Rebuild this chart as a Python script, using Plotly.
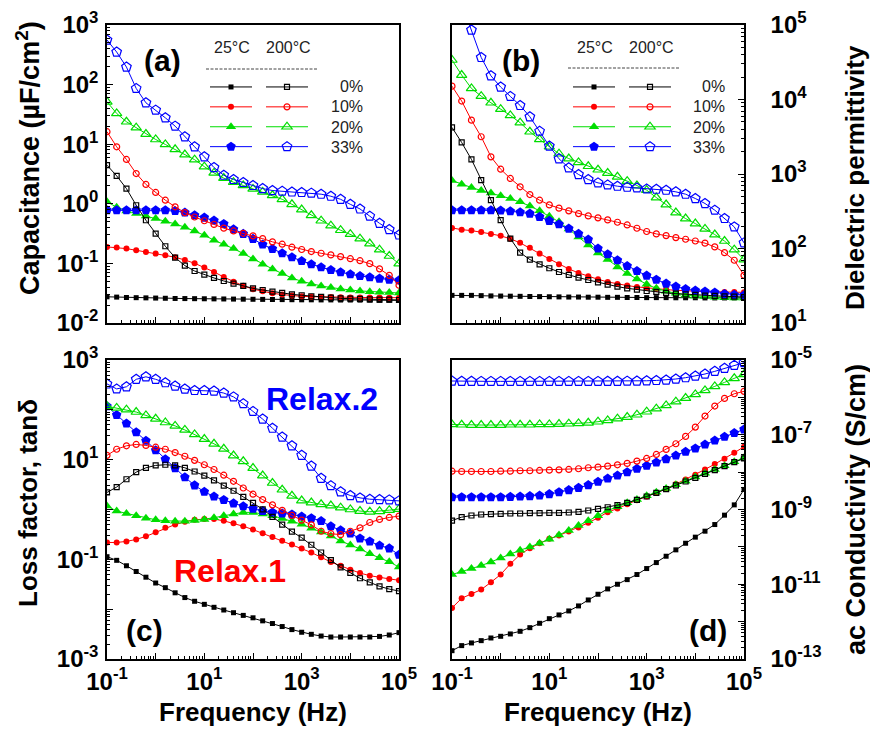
import plotly.graph_objects as go

# ---------------- data ----------------
freq = [0.1, 0.158, 0.251, 0.398, 0.631, 1, 1.58, 2.51, 3.98, 6.31,
        10, 15.8, 25.1, 39.8, 63.1, 100, 158, 251, 398, 631,
        1000, 1580, 2510, 3980, 6310, 10000, 15800, 25100, 39800, 63100, 100000]

compositions = ["0%", "10%", "20%", "33%"]
temperatures = ["25°C", "200°C"]

# (a) Capacitance (uF/cm2)
cap_0_25 = [0.0275, 0.0272, 0.0268, 0.0266, 0.0264, 0.0262, 0.0260, 0.0258, 0.0257, 0.0256, 0.0255, 0.0254, 0.0253, 0.0252, 0.0251, 0.0250,
            0.0249, 0.0248, 0.0247, 0.0246, 0.0245, 0.0245, 0.0244, 0.0244, 0.0243, 0.0243, 0.0242, 0.0242, 0.0241, 0.0241, 0.0240]
cap_0_200 = [4.45, 2.94, 1.80, 0.946, 0.530, 0.316, 0.194, 0.125, 0.0918, 0.0746, 0.0649, 0.0570, 0.0507, 0.0458, 0.0419, 0.0382,
             0.0358, 0.0336, 0.0319, 0.0303, 0.0292, 0.0281, 0.0274, 0.0267, 0.0259, 0.0256, 0.0253, 0.0250, 0.0247, 0.0247, 0.0243]
cap_10_25 = [0.189, 0.184, 0.177, 0.166, 0.156, 0.146, 0.137, 0.127, 0.114, 0.1005, 0.085, 0.072, 0.059, 0.049, 0.042, 0.037,
             0.034, 0.0315, 0.030, 0.0288, 0.028, 0.0277, 0.0274, 0.0272, 0.0270, 0.0268, 0.0268, 0.0267, 0.0267, 0.0266, 0.0266]
cap_10_200 = [16.2, 9.04, 5.55, 3.22, 2.11, 1.55, 1.15, 0.89, 0.71, 0.60, 0.52, 0.45, 0.39, 0.35, 0.32, 0.29,
              0.26, 0.23, 0.21, 0.187, 0.171, 0.158, 0.148, 0.139, 0.130, 0.120, 0.111, 0.099, 0.081, 0.063, 0.043]
cap_20_25 = [1.08, 0.877, 0.76, 0.687, 0.627, 0.566, 0.511, 0.46, 0.405, 0.351, 0.297, 0.245, 0.209, 0.177, 0.146, 0.119,
             0.0966, 0.0807, 0.0675, 0.057, 0.050, 0.0452, 0.0419, 0.0393, 0.0372, 0.0358, 0.0345, 0.0336, 0.0327, 0.0324, 0.0319]
cap_20_200 = [51.5, 32.8, 23.8, 18.9, 14.8, 12.0, 9.9, 8.2, 6.7, 5.5, 4.2, 3.3, 2.7, 2.3, 2.03, 1.78,
              1.58, 1.39, 1.19, 0.98, 0.80, 0.64, 0.52, 0.43, 0.36, 0.31, 0.26, 0.215, 0.17, 0.133, 0.099]
cap_33_25 = [0.78, 0.78, 0.78, 0.78, 0.78, 0.78, 0.78, 0.76, 0.713, 0.644, 0.587, 0.524, 0.46, 0.374, 0.313, 0.258,
             0.207, 0.175, 0.148, 0.127, 0.110, 0.0966, 0.0861, 0.0776, 0.0709, 0.0656, 0.0615, 0.0585, 0.0556, 0.0535, 0.0521]
cap_33_200 = [560, 352, 197, 86.3, 49.5, 37.3, 27.7, 20.1, 13.3, 9.04, 6.14, 4.06, 3.02, 2.56, 2.28, 2.03,
              1.80, 1.67, 1.63, 1.58, 1.55, 1.51, 1.45, 1.34, 1.19, 0.98, 0.82, 0.62, 0.47, 0.37, 0.30]

# (b) Dielectric permittivity
eps_0_25 = [23.5, 23.5, 23.5, 23.3, 23.1, 23.0, 22.9, 22.8, 22.7, 22.6, 22.5, 22.4, 22.3, 22.3, 22.2, 22.2,
            22.1, 22.1, 22.0, 22.0, 21.9, 21.9, 21.9, 21.8, 21.8, 21.8, 21.7, 21.7, 21.7, 21.7, 21.7]
eps_0_200 = [4220, 2650, 1570, 826, 445, 240, 136, 88.1, 71, 61.4, 54.3, 48.4, 44.2, 40.6, 37.8, 35.2,
             32.7, 30.8, 29.2, 28.1, 26.9, 26.1, 25.3, 24.8, 24.3, 23.8, 23.3, 23.1, 22.8, 22.6, 22.3]
eps_10_25 = [189, 179, 174, 167, 157, 148, 135, 119, 102, 85.5, 72.4, 61.4, 53.2, 47, 42.4, 38.6,
             35.6, 33.4, 31.8, 30.5, 29.5, 28.6, 28.1, 27.5, 26.9, 26.7, 26.4, 26.1, 26.1, 26.1, 25.8]
eps_10_200 = [15100, 9530, 5280, 3160, 1700, 1160, 871, 673, 530, 445, 385, 348, 320, 294, 274, 258,
              242, 225, 207, 187, 169, 157, 149, 140, 133, 126, 118, 105, 88, 69.5, 43.7]
eps_20_25 = [818, 729, 659, 600, 558, 509, 469, 423, 373, 320, 271, 228, 182, 143, 111, 87.3,
             71, 56.6, 46, 39, 33.1, 29.2, 26.7, 25.1, 23.8, 23.1, 22.6, 22.1, 21.9, 21.7, 21.7]
eps_20_200 = [33900, 21300, 14100, 11100, 9040, 7430, 6110, 4880, 3690, 2910, 2320, 1870, 1610, 1430, 1270, 1140,
              1030, 916, 802, 700, 607, 483, 389, 304, 252, 216, 183, 154, 126, 96.6, 71]
eps_33_25 = [327, 327, 327, 327, 327, 324, 317, 307, 294, 266, 235, 212, 185, 158, 132, 99.8,
             83.8, 69.5, 58.3, 50, 43.3, 38.2, 33.8, 30.8, 28.6, 27.2, 26.4, 25.6, 24.5, 24.0, 23.6]
eps_33_200 = [450000, 200000, 85700, 36700, 20800, 14700, 11000, 8320, 5860, 3760, 2370, 1600, 1210, 985, 843, 760,
              714, 686, 665, 651, 631, 625, 606, 576, 536, 469, 402, 327, 253, 195, 119]

# (c) Loss factor, tan(delta)
tan_0_25 = [0.113, 0.0955, 0.0743, 0.0570, 0.0438, 0.0335, 0.0270, 0.0213, 0.0171, 0.0144, 0.0125, 0.0109, 0.00962, 0.00849, 0.00750, 0.00671,
            0.00583, 0.00515, 0.00448, 0.00389, 0.00344, 0.00313, 0.00289, 0.00276, 0.00276, 0.00276, 0.00276, 0.00276, 0.00284, 0.00303, 0.00338]
tan_0_200 = [2.20, 2.82, 4.05, 5.61, 6.87, 7.67, 7.91, 7.67, 6.87, 5.79, 4.80, 3.85, 3.01, 2.38, 1.79, 1.36,
             1.01, 0.714, 0.499, 0.360, 0.272, 0.196, 0.137, 0.0968, 0.0687, 0.0536, 0.0417, 0.0346, 0.0287, 0.0253, 0.0231]
tan_10_25 = [0.218, 0.218, 0.229, 0.251, 0.289, 0.348, 0.428, 0.499, 0.566, 0.621, 0.641, 0.641, 0.593, 0.531, 0.461, 0.395,
             0.333, 0.280, 0.236, 0.199, 0.165, 0.137, 0.110, 0.0883, 0.0740, 0.0620, 0.0530, 0.0470, 0.0431, 0.0405, 0.0380]
tan_10_200 = [12.2, 16.2, 19.0, 20.2, 19.3, 17.8, 16.2, 13.9, 11.7, 9.68, 7.91, 6.35, 4.88, 3.68, 2.70, 2.03,
              1.58, 1.24, 0.961, 0.760, 0.611, 0.491, 0.366, 0.327, 0.313, 0.366, 0.428, 0.548, 0.631, 0.693, 0.738]
tan_20_25 = [1.18, 0.931, 0.836, 0.750, 0.671, 0.621, 0.593, 0.583, 0.583, 0.603, 0.631, 0.682, 0.750, 0.809, 0.875, 0.875,
             0.809, 0.750, 0.661, 0.583, 0.507, 0.421, 0.355, 0.295, 0.234, 0.195, 0.162, 0.129, 0.107, 0.089, 0.070]
tan_20_200 = [118, 109, 101, 90.4, 77.3, 66.1, 55.7, 47.6, 39.5, 32.2, 25.9, 20.8, 16.5, 12.1, 9.25, 6.78,
              4.80, 3.40, 2.49, 1.88, 1.51, 1.38, 1.27, 1.20, 1.09, 1.0, 0.93, 0.90, 0.92, 0.97, 1.02]
tan_33_25 = [118, 78.5, 53.1, 35.4, 24.0, 15.5, 10.2, 6.78, 4.44, 3.05, 2.27, 1.82, 1.56, 1.33, 1.16, 1.04,
             0.931, 0.875, 0.836, 0.798, 0.726, 0.671, 0.59, 0.46, 0.383, 0.33, 0.263, 0.229, 0.19, 0.166, 0.124]
tan_33_200 = [331, 263, 290, 410, 460, 410, 350, 300, 262, 245, 245, 238, 217, 182, 133, 93,
              65.2, 42.8, 28.4, 19.0, 12.2, 7.43, 4.24, 3.01, 2.27, 1.91, 1.71, 1.61, 1.58, 1.56, 1.49]

# (d) ac conductivity (S/cm)
sig_0_25 = [1.67e-13, 2.28e-13, 2.69e-13, 3.10e-13, 3.65e-13, 4.05e-13, 4.68e-13, 5.51e-13, 6.90e-13, 9.02e-13, 1.20e-12, 1.51e-12,
            1.93e-12, 2.63e-12, 3.80e-12, 5.40e-12, 7.50e-12, 1.0e-11, 1.33e-11, 1.82e-11, 2.63e-11, 3.80e-11, 5.62e-11, 8.32e-11,
            1.25e-10, 1.82e-10, 2.63e-10, 3.96e-10, 7.05e-10, 1.33e-9, 3.44e-9]
sig_0_200 = [5.07e-10, 6.24e-10, 6.90e-10, 7.35e-10, 7.50e-10, 7.66e-10, 7.82e-10, 7.82e-10, 7.98e-10, 7.98e-10, 8.15e-10, 8.15e-10,
             8.32e-10, 8.65e-10, 9.40e-10, 1.04e-9, 1.15e-9, 1.31e-9, 1.51e-9, 1.82e-9, 2.23e-9, 2.79e-9, 3.51e-9, 4.40e-9,
             5.62e-9, 7.05e-9, 9.02e-9, 1.13e-8, 1.45e-8, 1.85e-8, 2.32e-8]
sig_10_25 = [2.32e-12, 4.22e-12, 5.51e-12, 7.19e-12, 1.13e-11, 1.82e-11, 3.51e-11, 6.24e-11, 9.20e-11, 1.25e-10, 1.64e-10, 2.01e-10,
             2.58e-10, 3.30e-10, 4.40e-10, 6.00e-10, 8.49e-10, 1.06e-9, 1.39e-9, 1.78e-9, 2.23e-9, 2.79e-9, 3.58e-9, 4.78e-9,
             6.37e-9, 8.49e-9, 1.18e-8, 1.64e-8, 2.28e-8, 3.30e-8, 4.78e-8]
sig_10_200 = [1.06e-8, 1.04e-8, 1.04e-8, 1.04e-8, 1.04e-8, 1.06e-8, 1.06e-8, 1.09e-8, 1.09e-8, 1.11e-8, 1.13e-8, 1.15e-8,
              1.18e-8, 1.23e-8, 1.31e-8, 1.36e-8, 1.45e-8, 1.57e-8, 1.71e-8, 1.97e-8, 2.32e-8, 2.97e-8, 4.05e-8, 5.74e-8,
              9.02e-8, 1.60e-7, 3.16e-7, 5.86e-7, 9.40e-7, 1.25e-6, 1.45e-6]
sig_20_25 = [1.82e-11, 2.18e-11, 2.63e-11, 3.16e-11, 3.96e-11, 5.07e-11, 6.49e-11, 8.15e-11, 1.0e-10, 1.25e-10, 1.60e-10, 2.09e-10,
             2.74e-10, 3.72e-10, 4.97e-10, 6.76e-10, 9.40e-10, 1.18e-9, 1.51e-9, 1.85e-9, 2.32e-9, 2.91e-9, 3.65e-9, 4.58e-9,
             5.74e-9, 7.35e-9, 9.40e-9, 1.18e-8, 1.48e-8, 1.89e-8, 2.42e-8]
sig_20_200 = [1.89e-7, 1.85e-7, 1.82e-7, 1.82e-7, 1.82e-7, 1.82e-7, 1.85e-7, 1.85e-7, 1.85e-7, 1.89e-7, 1.89e-7, 1.93e-7,
              1.97e-7, 2.01e-7, 2.09e-7, 2.23e-7, 2.42e-7, 2.69e-7, 2.97e-7, 3.43e-7, 4.13e-7, 4.97e-7, 6.11e-7, 7.66e-7,
              9.59e-7, 1.20e-6, 1.54e-6, 1.97e-6, 2.52e-6, 3.23e-6, 4.13e-6]
sig_33_25 = [2.14e-9, 2.14e-9, 2.14e-9, 2.14e-9, 2.14e-9, 2.14e-9, 2.18e-9, 2.23e-9, 2.28e-9, 2.37e-9, 2.58e-9, 2.91e-9,
             3.30e-9, 3.80e-9, 4.49e-9, 5.51e-9, 6.76e-9, 8.15e-9, 1.0e-8, 1.23e-8, 1.48e-8, 1.82e-8, 2.23e-8, 2.79e-8,
             3.51e-8, 4.31e-8, 5.51e-8, 7.05e-8, 8.83e-8, 1.11e-7, 1.39e-7]
sig_33_200 = [2.74e-6, 2.70e-6, 2.70e-6, 2.68e-6, 2.68e-6, 2.68e-6, 2.68e-6, 2.68e-6, 2.68e-6, 2.68e-6, 2.68e-6, 2.68e-6,
              2.68e-6, 2.68e-6, 2.68e-6, 2.68e-6, 2.70e-6, 2.70e-6, 2.72e-6, 2.74e-6, 2.78e-6, 2.84e-6, 2.91e-6, 3.10e-6,
              3.36e-6, 3.72e-6, 4.22e-6, 4.97e-6, 5.98e-6, 7.19e-6, 8.49e-6]

# tick labels
x_ticktext = ["10<sup>-1</sup>", "", "10<sup>1</sup>", "", "10<sup>3</sup>", "", "10<sup>5</sup>"]
cap_ticktext = ["10<sup>-2</sup>", "10<sup>-1</sup>", "10<sup>0</sup>", "10<sup>1</sup>", "10<sup>2</sup>", "10<sup>3</sup>"]
eps_ticktext = ["10<sup>1</sup>", "10<sup>2</sup>", "10<sup>3</sup>", "10<sup>4</sup>", "10<sup>5</sup>"]
tan_ticktext = ["10<sup>-3</sup>", "", "10<sup>-1</sup>", "", "10<sup>1</sup>", "", "10<sup>3</sup>"]
sig_ticktext = ["10<sup>-13</sup>", "", "10<sup>-11</sup>", "", "10<sup>-9</sup>", "",
                "10<sup>-7</sup>", "", "10<sup>-5</sup>"]

# ---------------- layout helpers ----------------
# The page body has an 8px margin, so the figure is 8px smaller and its
# plotting box is expressed in page pixels (L, R, T, B) shifted by that offset.
PAGE_OFF = 8
W, H = 878 - PAGE_OFF, 733 - PAGE_OFF
L, R, T, B = 107, 744, 25, 659   # plotting area in page pixels


def px(x):
    return (x - L) / (R - L)


def py(y):
    return (B - y) / (B - T)


BLACK, RED, GREEN, BLUE = "#000000", "#ff0000", "#00dd00", "#0000ff"
comp_style = {
    "0%": (BLACK, "square", 5),
    "10%": (RED, "circle", 6),
    "20%": (GREEN, "triangle-up", 9),
    "33%": (BLUE, "pentagon", 10),
}

panels = [
    ("x", "y", {"0%": (cap_0_25, cap_0_200), "10%": (cap_10_25, cap_10_200),
                "20%": (cap_20_25, cap_20_200), "33%": (cap_33_25, cap_33_200)}, ("legend", "legend2")),
    ("x2", "y2", {"0%": (eps_0_25, eps_0_200), "10%": (eps_10_25, eps_10_200),
                  "20%": (eps_20_25, eps_20_200), "33%": (eps_33_25, eps_33_200)}, ("legend3", "legend4")),
    ("x3", "y3", {"0%": (tan_0_25, tan_0_200), "10%": (tan_10_25, tan_10_200),
                  "20%": (tan_20_25, tan_20_200), "33%": (tan_33_25, tan_33_200)}, None),
    ("x4", "y4", {"0%": (sig_0_25, sig_0_200), "10%": (sig_10_25, sig_10_200),
                  "20%": (sig_20_25, sig_20_200), "33%": (sig_33_25, sig_33_200)}, None),
]

fig = go.Figure()
for xa, ya, series, legs in panels:
    for ti, temp in enumerate(temperatures):
        for comp in compositions:
            color, sym, size = comp_style[comp]
            vals = series[comp][ti]
            is_open = ti == 1
            fig.add_trace(go.Scatter(
                x=freq, y=vals, xaxis=xa, yaxis=ya,
                mode="lines+markers",
                name="",
                line=dict(color=color, width=1),
                marker=dict(symbol=sym + ("-open" if is_open else ""), size=size, color=color,
                            line=dict(color=color, width=1.2 if is_open else 0)),
                showlegend=legs is not None,
                legend=(legs[ti] if legs else None),
                hovertemplate=f"{comp} {temp}<br>f=%{{x}} Hz<br>%{{y}}<extra></extra>",
            ))

FONT = "Arial, Liberation Sans, sans-serif"
tickfont = dict(family=FONT, size=24, color="black", weight="bold")


def minor_vals(lo, hi):
    return [m * 10.0 ** e for e in range(lo, hi) for m in range(2, 10)]


def axis_common(**kw):
    d = dict(type="log", showline=True, linecolor="black", linewidth=1.5, mirror=True,
             ticks="inside", ticklen=6, tickwidth=1, tickcolor="black",
             showgrid=False, zeroline=False, tickfont=tickfont, tickmode="array")
    d.update(kw)
    return d


xdec = [10.0 ** e for e in range(-1, 6)]
xminor = dict(ticks="inside", ticklen=3, tickwidth=1, tickcolor="black", showgrid=False,
              tickmode="array", tickvals=minor_vals(-1, 5))

left_dom = [0, px(399)]
right_dom = [px(452), 1]
top_dom = [py(323), 1]
bot_dom = [0, py(360)]

layout_axes = dict(
    xaxis=axis_common(domain=left_dom, anchor="y", range=[-1, 5], tickvals=xdec, ticktext=x_ticktext,
                      showticklabels=False, minor=xminor),
    xaxis2=axis_common(domain=right_dom, anchor="y2", range=[-1, 5], tickvals=xdec, ticktext=x_ticktext,
                       showticklabels=False, minor=xminor),
    xaxis3=axis_common(domain=left_dom, anchor="y3", range=[-1, 5], tickvals=xdec, ticktext=x_ticktext,
                       minor=xminor),
    xaxis4=axis_common(domain=right_dom, anchor="y4", range=[-1, 5], tickvals=xdec, ticktext=x_ticktext,
                       minor=xminor),
    yaxis=axis_common(domain=top_dom, anchor="x", range=[-2, 3],
                      tickvals=[10.0 ** e for e in range(-2, 4)], ticktext=cap_ticktext,
                      ticklabelstandoff=2,
                      minor=dict(ticks="inside", ticklen=3, tickcolor="black", tickmode="array",
                                 tickvals=minor_vals(-2, 3), showgrid=False)),
    yaxis2=axis_common(domain=top_dom, anchor="x2", side="right", range=[1, 5],
                       tickvals=[10.0 ** e for e in range(1, 6)], ticktext=eps_ticktext,
                       ticklabelstandoff=20,
                       minor=dict(ticks="inside", ticklen=3, tickcolor="black", tickmode="array",
                                  tickvals=minor_vals(1, 5), showgrid=False)),
    yaxis3=axis_common(domain=bot_dom, anchor="x3", range=[-3, 3],
                       tickvals=[10.0 ** e for e in range(-3, 4)], ticktext=tan_ticktext,
                       ticklabelstandoff=2,
                       minor=dict(ticks="inside", ticklen=3, tickcolor="black", tickmode="array",
                                  tickvals=minor_vals(-3, 3), showgrid=False)),
    yaxis4=axis_common(domain=bot_dom, anchor="x4", side="right", range=[-13, -5],
                       tickvals=[10.0 ** e for e in range(-13, -4)], ticktext=sig_ticktext,
                       ticklabelstandoff=20,
                       minor=dict(ticks="inside", ticklen=3, tickcolor="black", tickmode="array",
                                  tickvals=minor_vals(-13, -5), showgrid=False)),
)


def legend_at(xpix):
    return dict(x=px(xpix), y=py(72), xanchor="left", yanchor="top", itemwidth=42,
                font=dict(family=FONT, size=13), bgcolor="rgba(0,0,0,0)", borderwidth=0,
                tracegroupgap=0, orientation="v")


annotations = []


def ann(text, x, y, size, color="black", bold=True, angle=0, xanchor="center"):
    annotations.append(dict(text=text, x=px(x), y=py(y), xref="paper", yref="paper",
                            showarrow=False, textangle=angle, xanchor=xanchor, yanchor="middle",
                            font=dict(family=FONT, size=size, color=color,
                                      weight="bold" if bold else "normal")))


# axis titles
ann("Capacitance (µF/cm<sup>2</sup>)", 28, 158, 27, angle=-90)
ann("Loss factor, tanδ", 28, 503, 26, angle=-90)
ann("Dielectric permittivity", 855, 178, 26, angle=-90)
ann("ac Conductivity (S/cm)", 856, 510, 27, angle=-90)
ann("Frequency (Hz)", 253, 712, 26)
ann("Frequency (Hz)", 598, 712, 26)
# panel labels
ann("(a)", 162, 61, 30)
ann("(b)", 521, 61, 30)
ann("(c)", 144, 630, 30)
ann("(d)", 708, 630, 30)
ann("Relax.2", 322, 399, 32, color=BLUE)
ann("Relax.1", 230, 571, 32, color=RED)
# legend headers and labels
for (c25, c200, rlab) in [(232, 288, 365), (595, 651, 727)]:
    ann(temperatures[0], c25, 47, 16, color="#222222", bold=False)
    ann(temperatures[1], c200, 47, 16, color="#222222", bold=False)
    for i, comp in enumerate(compositions):
        ann(comp, rlab, 87 + 20 * i, 16, color="#222222", bold=False, xanchor="right")

shapes = [
    dict(type="line", xref="paper", yref="paper", x0=px(206), x1=px(317), y0=py(69), y1=py(69),
         line=dict(color="#444444", width=1, dash="3px,1.5px")),
    dict(type="line", xref="paper", yref="paper", x0=px(568), x1=px(679), y0=py(68), y1=py(68),
         line=dict(color="#444444", width=1, dash="3px,1.5px")),
]

fig.update_layout(
    width=W, height=H,
    margin=dict(l=L - PAGE_OFF, r=(W + PAGE_OFF) - R, t=T - PAGE_OFF, b=(H + PAGE_OFF) - B, autoexpand=False),
    paper_bgcolor="white", plot_bgcolor="white",
    font=dict(family=FONT, color="black"),
    legend=legend_at(205), legend2=legend_at(261),
    legend3=legend_at(568), legend4=legend_at(624),
    annotations=annotations, shapes=shapes,
    **layout_axes,
)

fig.write_html("out.html")
